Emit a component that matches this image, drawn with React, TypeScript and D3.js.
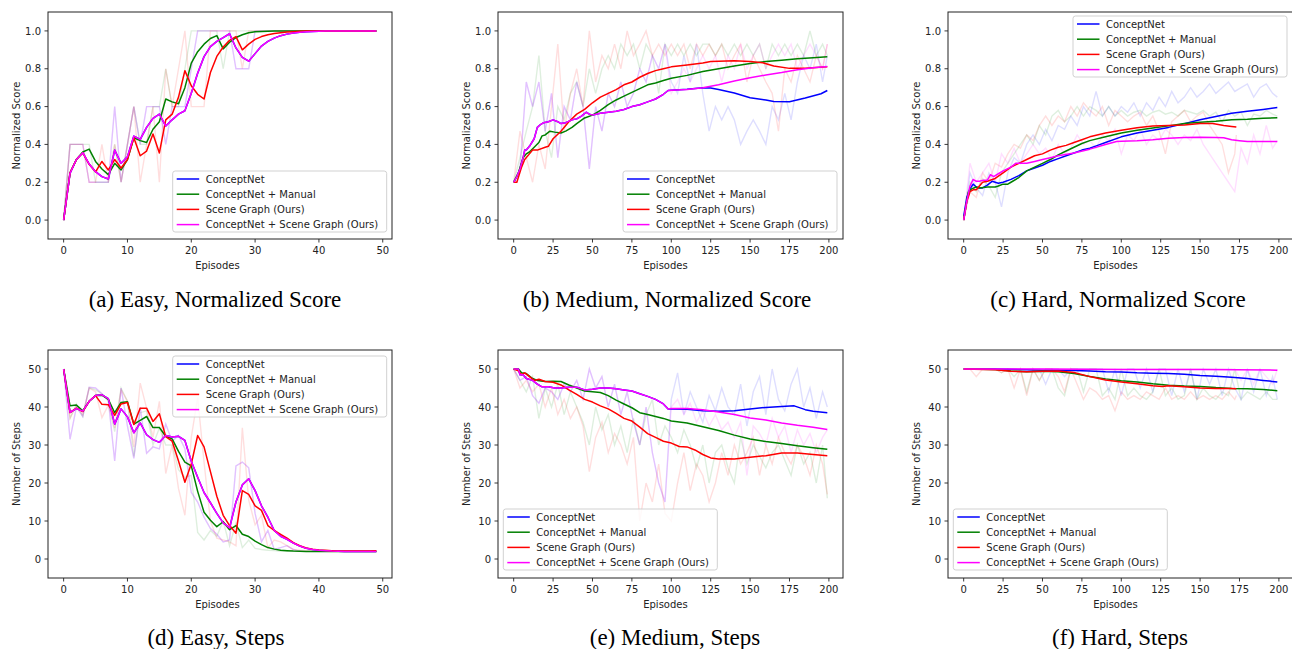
import React from 'react';
import * as d3 from 'd3';

type Pt = [number, number];

const SERIES_LABELS = ['ConceptNet', 'ConceptNet + Manual', 'Scene Graph (Ours)', 'ConceptNet + Scene Graph (Ours)'];
const SERIES_COLORS = ['#0000ff', '#008000', '#ff0000', '#ff00ff'];

const SCORE_TICKS = [0, 0.2, 0.4, 0.6, 0.8, 1.0];
const STEP_TICKS = [0, 10, 20, 30, 40, 50];
const EASY_X_TICKS = [0, 10, 20, 30, 40, 50];
const LONG_X_TICKS = [0, 25, 50, 75, 100, 125, 150, 175, 200];

// ---- Easy, normalized score (one value per episode) ----
const easyScoreMagenta = [0, .247, .32, .356, .296, .256, .23, .217, .37, .30, .335, .444, .427, .49, .538, .56, .497, .53, .56, .578, .67, .776, .864, .917, .945, .965, .985, .91, .86, .84, .88, .92, .945, .962, .975, .983, .989, .993, .995, .997, .998, .999, .999, 1, 1, 1, 1, 1, 1, 1];
const easyScoreMagentaRaw = [0, .4, .4, .4, .2, .2, .2, .2, .6, .2, .4, .6, .4, .6, .6, .6, .4, .6, .6, .6, .8, 1, 1, 1, 1, 1, 1, .8, .8, .8, 1, 1, 1, 1, 1, 1, 1, 1, 1, 1, 1, 1, 1, 1, 1, 1, 1, 1, 1, 1];
const easyScoreGreen = [0, .25, .32, .36, .375, .31, .27, .24, .30, .265, .32, .435, .42, .41, .48, .52, .64, .625, .615, .70, .83, .89, .93, .96, .975, .905, .94, .965, .98, .99, .995, .997, .998, .999, 1, 1, 1, 1, 1, 1, 1, 1, 1, 1, 1, 1, 1, 1, 1, 1];
const easyScoreGreenRaw = [0, .4, .4, .4, .4, .2, .2, .2, .4, .2, .4, .6, .4, .4, .6, .6, .8, .6, .6, .8, 1, 1, 1, 1, 1, .8, 1, 1, 1, 1, 1, 1, 1, 1, 1, 1, 1, 1, 1, 1, 1, 1, 1, 1, 1, 1, 1, 1, 1, 1];
const easyScoreRed = [0, .25, .32, .355, .295, .255, .31, .265, .32, .275, .32, .435, .34, .365, .455, .355, .53, .56, .65, .79, .71, .665, .64, .78, .865, .915, .95, .97, .90, .93, .955, .97, .98, .986, .99, .994, .996, .998, .999, .999, 1, 1, 1, 1, 1, 1, 1, 1, 1, 1];
const easyScoreRedRaw = [0, .4, .4, .4, .2, .2, .4, .2, .4, .2, .4, .6, .2, .4, .6, .2, .8, .6, .8, 1, .6, .6, .6, 1, 1, 1, 1, 1, .8, 1, 1, 1, 1, 1, 1, 1, 1, 1, 1, 1, 1, 1, 1, 1, 1, 1, 1, 1, 1, 1];

// ---- Easy, steps ----
const easyStepsMagenta = [50, 38.6, 39.6, 38.9, 41.5, 43, 43.2, 42.2, 35.5, 39.5, 37.4, 33.2, 35.8, 32.7, 31.4, 30.7, 32.5, 32.1, 32.3, 31.2, 25.7, 21.5, 17.5, 14.8, 12, 9.5, 8.2, 15, 19.5, 21.1, 18, 14, 11, 7.5, 6, 5.2, 4.2, 3.4, 2.8, 2.5, 2.3, 2.2, 2.1, 2.05, 2, 2, 2, 2, 2, 1.95];
const easyStepsMagentaRaw = [50, 31.5, 40, 37.5, 45.2, 45, 43.5, 41.8, 25.8, 45, 35, 26.5, 40, 27.8, 29.5, 29, 35.5, 31, 32.5, 29, 17.5, 15, 11, 8, 6.5, 4.5, 5, 24.5, 25.5, 24, 12, 4.5, 7.5, 2.5, 3, 3.5, 2.5, 2, 2, 2, 2, 2, 2, 2, 2, 2, 2, 2, 2, 2];
const easyStepsGreen = [50, 40.3, 40.5, 39, 41.5, 43, 43.1, 42, 38.5, 41.2, 41.4, 35.5, 36.5, 37.5, 34.6, 34.6, 32.3, 31.6, 28.3, 25.5, 24.5, 17.8, 12.3, 10.2, 8.5, 9.8, 7.7, 8.8, 6.5, 5.9, 4.7, 3.8, 3.0, 2.6, 2.3, 2.2, 2.1, 2.05, 2, 2, 2, 2, 2, 2, 2, 2, 2, 2, 2, 2];
const easyStepsGreenRaw = [50, 37, 40.8, 37.5, 45, 44.5, 43.5, 41.5, 33.5, 45, 41.5, 27, 38.5, 39, 30, 34.5, 30, 30, 23.5, 21.5, 22, 7, 5, 7.5, 6, 10, 3.5, 9.5, 3, 5, 2.8, 2.5, 2.3, 2.2, 2, 2, 2, 2, 2, 2, 2, 2, 2, 2, 2, 2, 2, 2, 2, 2];
const easyStepsRed = [50, 38.5, 39.7, 38.8, 41.5, 43, 40.7, 40.6, 37.8, 40.8, 41.2, 35.4, 39.7, 39.7, 36.2, 38.2, 32.2, 31, 25.8, 20.2, 25, 32.5, 29.5, 23, 16.5, 11.5, 8.8, 6.8, 18, 17, 14, 12.8, 8.8, 7.5, 6.5, 5.5, 4.3, 3.5, 2.9, 2.6, 2.4, 2.3, 2.2, 2.1, 2.1, 2.1, 2.1, 2.1, 2.1, 2.2];
const easyStepsRedRaw = [50, 37, 40.5, 38, 45, 44, 37.2, 40.5, 34.5, 44.5, 41.5, 29.5, 46.3, 39.7, 32, 41.5, 22.5, 30, 18.5, 11.5, 32, 42.5, 25.5, 10, 5.5, 5, 4.5, 3.5, 34.5, 15.5, 9, 11.5, 3, 5, 4.5, 3.5, 2.5, 2.3, 2.2, 2.2, 2.2, 2.2, 2.2, 2.2, 2.2, 2.2, 2.2, 2.2, 2.2, 2.2];

// ---- Medium, normalized score (raw values every 4 episodes) ----
const medScoreRedRaw = [.2, .47, .33, .2, .4, .27, .6, .93, .47, .67, .8, .6, 1, .73, .87, .8, .93, .8, 1, .87, .93, 1, .87, .93, .87, .93, .87, .93, .8, .93, .87, .93, .87, .93, .8, .87, .93, .73, .87, .8, .73, .67, .47, .8, .73, .87, .8, .73, .87, .8, .93];
const medScoreGreenRaw = [.2, .33, .47, .6, .87, .47, .33, .6, .53, .67, .73, .6, .8, .67, .8, .87, .8, .93, .87, .93, .8, .93, .87, .67, .93, .87, .93, .87, .93, .87, .93, .93, .87, .93, .87, .93, .87, .93, .87, .93, .8, .93, .87, .93, .87, .93, .87, 1, .87, .93, .87];
const medScoreMagentaRaw = [.2, .27, .73, .6, .73, .47, .67, .33, .6, .53, .73, .6, .27, .6, .47, .67, .6, .73, .6, .67, .8, .73, .87, .8, .93, .67, .73, .8, .73, .8, .87, .8, .87, .73, .87, .8, .93, .8, .87, .93, .8, .87, .93, .87, .93, .8, .87, .93, .87, .8, .93];
const medScoreBlueRawTail = [.73, .67, .87, .73, .93, .67, .47, .6, .53, .6, .53, .4, .47, .53, .47, .4, .6, .53, .67, .53, .73, .87, .8, .93, .73, .87];
const medScoreRed: Pt[] = [[0, .2], [2, .2], [5, .28], [7, .32], [10, .35], [12, .37], [15, .37], [20, .385], [22, .39], [25, .43], [30, .47], [35, .52], [40, .56], [45, .585], [50, .62], [55, .65], [60, .67], [65, .69], [70, .715], [75, .73], [80, .755], [85, .775], [90, .79], [95, .80], [100, .81], [110, .82], [120, .83], [125, .838], [140, .842], [150, .838], [158, .832], [165, .815], [175, .802], [185, .803], [199, .81]];
const medScoreGreen: Pt[] = [[0, .2], [3, .25], [6, .33], [8, .35], [10, .36], [13, .385], [16, .41], [18, .445], [20, .45], [23, .47], [26, .465], [30, .46], [33, .47], [37, .49], [40, .51], [45, .54], [50, .555], [55, .58], [60, .61], [65, .635], [70, .655], [75, .675], [80, .695], [85, .715], [90, .725], [95, .738], [100, .75], [110, .765], [120, .785], [130, .80], [140, .815], [150, .828], [160, .838], [170, .845], [180, .853], [190, .858], [199, .863]];
const medScoreMagenta: Pt[] = [[0, .2], [2, .23], [4, .27], [6, .33], [7, .37], [8, .37], [10, .39], [13, .43], [15, .49], [17, .505], [19, .515], [22, .52], [25, .53], [28, .52], [30, .51], [33, .515], [37, .53], [40, .535], [43, .55], [46, .57], [48, .56], [50, .555], [55, .565], [60, .57], [65, .575], [70, .585], [75, .6], [80, .61], [85, .625], [90, .64], [95, .665], [98, .685], [100, .686], [110, .69], [120, .70], [130, .715], [140, .735], [150, .752], [160, .767], [170, .78], [180, .795], [190, .805], [199, .812]];
const medScoreBlueTail: Pt[] = [[100, .686], [110, .692], [120, .70], [125, .698], [130, .69], [140, .672], [150, .647], [160, .635], [165, .627], [175, .626], [185, .645], [195, .668], [199, .685]];

// ---- Hard, normalized score ----
const hardScoreBlueRaw = [0, .25, .17, .13, .25, .2, .07, .25, .33, .3, .4, .45, .4, .48, .42, .5, .48, .55, .5, .6, .55, .68, .55, .6, .55, .6, .57, .62, .55, .62, .58, .65, .6, .68, .62, .65, .7, .65, .68, .72, .67, .7, .73, .68, .7, .72, .65, .7, .72, .67, .65];
const hardScoreGreenRaw = [0, .2, .15, .22, .18, .12, .25, .3, .35, .4, .45, .4, .5, .45, .55, .58, .52, .55, .6, .55, .6, .58, .55, .6, .55, .58, .55, .57, .58, .55, .57, .58, .56, .57, .55, .58, .57, .56, .58, .55, .57, .52, .58, .55, .57, .5, .56, .55, .58, .56, .55];
const hardScoreRedRaw = [0, .15, .12, .25, .2, .3, .28, .35, .4, .38, .45, .42, .5, .55, .5, .55, .52, .6, .55, .62, .58, .55, .6, .5, .58, .55, .52, .55, .57, .5, .55, .47, .35, .52, .55, .58, .52, .55, .57, .5, .45, .4, .25, .35, .45];
const hardScoreMagentaRaw = [0, .3, .2, .25, .3, .2, .35, .3, .38, .3, .35, .4, .35, .38, .32, .4, .35, .38, .45, .4, .42, .38, .45, .42, .48, .35, .45, .42, .48, .4, .45, .42, .48, .45, .4, .45, .42, .48, .4, .35, .3, .25, .2, .15, .38, .3, .45, .35, .5, .38, .42];
const hardScoreBlue: Pt[] = [[0, .02], [2, .12], [4, .165], [6, .19], [8, .175], [10, .17], [12, .17], [15, .185], [18, .205], [20, .2], [22, .195], [25, .2], [30, .215], [35, .235], [40, .26], [45, .275], [50, .29], [55, .31], [60, .325], [65, .34], [70, .355], [75, .37], [80, .38], [85, .395], [90, .41], [100, .44], [110, .46], [120, .475], [130, .49], [140, .51], [150, .53], [160, .548], [170, .565], [180, .575], [190, .585], [199, .595]];
const hardScoreGreen: Pt[] = [[0, 0], [3, .15], [5, .165], [8, .175], [10, .17], [15, .175], [20, .175], [22, .18], [25, .19], [28, .19], [30, .2], [35, .225], [40, .26], [45, .28], [50, .3], [55, .32], [60, .345], [65, .365], [70, .385], [75, .405], [80, .42], [90, .44], [100, .46], [110, .475], [120, .487], [130, .498], [140, .51], [150, .517], [160, .522], [170, .53], [180, .533], [190, .538], [199, .541]];
const hardScoreRed: Pt[] = [[0, 0], [2, .1], [4, .15], [6, .16], [8, .16], [10, .18], [12, .2], [15, .205], [20, .22], [25, .25], [30, .28], [35, .30], [40, .32], [45, .34], [50, .35], [55, .37], [60, .385], [65, .395], [70, .41], [75, .425], [80, .44], [90, .46], [100, .475], [110, .488], [120, .497], [130, .50], [140, .503], [150, .51], [158, .51], [165, .50], [170, .495], [173, .492]];
const hardScoreMagenta: Pt[] = [[0, 0], [2, .1], [4, .18], [6, .215], [8, .205], [10, .205], [12, .21], [15, .21], [17, .24], [19, .23], [22, .245], [25, .26], [30, .28], [33, .30], [37, .30], [40, .30], [45, .31], [50, .32], [55, .33], [60, .34], [70, .355], [80, .375], [90, .40], [97, .415], [100, .417], [110, .42], [120, .425], [130, .432], [140, .437], [150, .438], [160, .437], [165, .435], [170, .425], [175, .42], [180, .415], [190, .415], [199, .415]];

// ---- Medium, steps ----
const medStepsRedRaw = [50, 45, 47, 44, 46, 40, 45, 38, 42, 37, 40, 35, 23, 32, 36, 28, 33, 30, 25, 32, 10, 20, 15, 25, 12, 10, 20, 28, 18, 25, 22, 15, 20, 28, 22, 30, 25, 28, 32, 22, 30, 25, 32, 28, 25, 30, 27, 22, 30, 25, 17];
const medStepsGreenRaw = [50, 47, 44, 48, 37, 45, 40, 46, 38, 44, 40, 36, 30, 40, 34, 38, 30, 35, 28, 37, 30, 38, 42, 30, 35, 32, 28, 34, 30, 24, 30, 20, 28, 30, 24, 20, 32, 25, 30, 27, 24, 28, 30, 26, 22, 30, 25, 28, 20, 30, 16];
const medStepsMagentaRaw = [50, 47, 48, 43, 41, 45, 44, 42, 46, 44, 47, 42, 50, 45, 48, 40, 46, 38, 44, 36, 30, 40, 28, 20, 15, 40, 42, 38, 41, 36, 39, 35, 38, 34, 36, 32, 36, 22, 35, 33, 30, 37, 32, 35, 28, 34, 30, 33, 28, 32, 34];
const medStepsBlueRawTail = [42, 49, 38, 44, 40, 36, 43, 39, 45, 40, 38, 46, 35, 44, 48, 38, 50, 42, 39, 46, 50, 40, 45, 37, 44, 40];
const medStepsRed: Pt[] = [[0, 50], [3, 49.5], [5, 48.5], [7, 49], [10, 48], [13, 47], [16, 47.3], [20, 46.7], [25, 46.5], [30, 45.8], [35, 44.5], [40, 43.3], [45, 42], [50, 41.3], [55, 40.3], [60, 39.5], [65, 38.3], [70, 37], [75, 36.3], [80, 34.7], [85, 33], [90, 32], [95, 31], [100, 30.5], [105, 29.6], [110, 29.5], [115, 28.7], [120, 27.5], [125, 26.6], [130, 26.3], [135, 26.4], [140, 26.3], [150, 26.8], [160, 27.2], [170, 27.9], [180, 27.9], [190, 27.5], [199, 27.2]];
const medStepsGreen: Pt[] = [[0, 50], [3, 50], [5, 49], [8, 48.8], [12, 47.5], [15, 47], [20, 46.7], [25, 46.8], [30, 46.7], [35, 45.8], [40, 45], [45, 44.2], [50, 44], [55, 43.8], [60, 43], [65, 41.8], [70, 40.8], [75, 39.8], [80, 38.5], [85, 38], [90, 37.5], [95, 37], [100, 36.3], [110, 35.8], [120, 34.8], [130, 33.8], [140, 32.6], [150, 31.6], [160, 30.9], [170, 30.4], [180, 29.8], [190, 29.3], [199, 28.9]];
const medStepsMagenta: Pt[] = [[0, 50], [3, 50], [4, 48.5], [6, 48.5], [8, 47.5], [12, 47], [15, 46], [18, 45.3], [22, 45.3], [26, 45], [30, 45], [35, 45.2], [40, 45.2], [45, 44.5], [50, 44.7], [55, 45], [60, 45], [65, 44.8], [70, 44.5], [75, 44.2], [80, 43.5], [85, 42.8], [90, 42], [95, 40.8], [98, 39.5], [100, 39.6], [110, 39.6], [120, 39.3], [130, 38.7], [140, 38], [150, 37.1], [160, 36.6], [170, 35.8], [180, 35.2], [190, 34.7], [199, 34.1]];
const medStepsBlueTail: Pt[] = [[100, 39.5], [110, 39.4], [120, 39.0], [130, 38.9], [140, 39.0], [150, 39.5], [160, 39.9], [170, 40.1], [178, 40.3], [185, 39.3], [190, 38.9], [199, 38.5]];

// ---- Hard, steps ----
const hardStepsBlueRaw = [50, 50, 50, 50, 50, 50, 50, 50, 50, 50, 50, 50, 50, 46, 50, 50, 48, 50, 50, 50, 50, 50, 50, 44, 50, 43, 50, 50, 45, 50, 44, 50, 50, 43, 50, 44, 50, 42, 50, 46, 50, 43, 50, 45, 42, 50, 44, 50, 43, 48, 42];
const hardStepsGreenRaw = [50, 50, 50, 50, 50, 50, 49, 50, 48, 50, 44, 50, 47, 50, 50, 45, 43, 50, 50, 44, 50, 50, 43, 45, 42, 50, 43, 45, 43, 42, 44, 50, 43, 45, 42, 43, 50, 42, 45, 43, 42, 44, 43, 50, 42, 44, 43, 42, 44, 42, 42];
const hardStepsRedRaw = [50, 50, 48, 50, 50, 50, 49, 50, 45, 50, 43, 50, 47, 50, 50, 48, 44, 50, 46, 42, 45, 44, 42, 43, 39, 44, 42, 43, 42, 44, 43, 42, 45, 42, 43, 42, 44, 42, 43, 42, 43, 42, 44, 42, 43];
const hardStepsMagentaRaw = [50, 50, 50, 50, 50, 50, 50, 50, 50, 50, 50, 50, 50, 50, 50, 50, 50, 50, 50, 50, 50, 50, 50, 50, 50, 50, 50, 50, 50, 50, 50, 50, 50, 50, 50, 50, 50, 50, 50, 50, 50, 50, 50, 50, 47, 50, 46, 50, 48, 46, 50];
const hardStepsBlue: Pt[] = [[0, 50], [20, 50], [40, 49.8], [50, 49.7], [60, 49.7], [70, 49.6], [80, 49.5], [90, 49.3], [100, 49.2], [110, 49.0], [120, 48.9], [130, 48.8], [140, 48.6], [150, 48.3], [160, 48.1], [170, 47.8], [180, 47.5], [190, 47.0], [199, 46.6]];
const hardStepsGreen: Pt[] = [[0, 50], [20, 49.9], [30, 49.5], [40, 49.3], [50, 49.4], [60, 49.3], [70, 48.8], [80, 48.0], [90, 47.4], [100, 46.9], [110, 46.6], [120, 46.1], [130, 45.7], [140, 45.5], [150, 45.4], [160, 45.1], [170, 44.9], [180, 44.8], [190, 44.6], [199, 44.3]];
const hardStepsRed: Pt[] = [[0, 50], [20, 49.8], [30, 49.4], [40, 49.3], [50, 49.4], [60, 49.5], [70, 49.1], [80, 48.0], [90, 47.1], [100, 46.6], [110, 46.1], [120, 45.6], [126, 45.4], [130, 45.6], [140, 45.3], [150, 45.0], [160, 44.9], [170, 44.9], [173, 44.8]];
const hardStepsMagenta: Pt[] = [[0, 50], [50, 50], [100, 49.9], [150, 49.9], [199, 49.7]];

interface Curve { raw: number[]; step: number; last: number; smooth: Pt[] }

const perEpisode = (vals: number[]): Pt[] => vals.map((v, i) => [i, v] as Pt);
const rawPoints = (c: Curve): Pt[] => c.raw.map((v, i) => [Math.min(i * c.step, c.last), v] as Pt);
const easyCurve = (raw: number[], smooth: number[]): Curve => ({ raw, step: 1, last: 49, smooth: perEpisode(smooth) });
const longCurve = (raw: number[], smooth: Pt[], last = 199): Curve => ({ raw, step: 4, last, smooth });
const withTail = (head: Pt[], tail: Pt[]) => head.filter(d => d[0] < tail[0][0]).concat(tail);

const TOP = { top: 12, bottom: 239 };
const BOT = { top: 350, bottom: 578 };
const COLS = [
  { left: 48, right: 392, domain: [-2.45, 51.45], ticks: EASY_X_TICKS },
  { left: 498, right: 843, domain: [-9.95, 208.95], ticks: LONG_X_TICKS },
  { left: 948, right: 1293, domain: [-9.95, 208.95], ticks: LONG_X_TICKS },
];
const LEGEND_W = 214;
const LEGEND_H = 61;

interface PanelDef {
  id: string; col: number; row: typeof TOP; yDomain: [number, number]; yTicks: number[];
  yFmt: (v: number) => string; yLabel: string; curves: Curve[]; legend: [number, number];
  caption: string; captionX: number; captionY: number;
}

const fmtScore = d3.format('.1f');
const fmtSteps = d3.format('d');

const PANELS: PanelDef[] = [
  {
    id: 'a', col: 0, row: TOP, yDomain: [-0.1, 1.1], yTicks: SCORE_TICKS, yFmt: fmtScore, yLabel: 'Normalized Score',
    curves: [easyCurve(easyScoreMagentaRaw, easyScoreMagenta), easyCurve(easyScoreGreenRaw, easyScoreGreen), easyCurve(easyScoreRedRaw, easyScoreRed), easyCurve(easyScoreMagentaRaw, easyScoreMagenta)],
    legend: [172.7, 171], caption: '(a) Easy, Normalized Score', captionX: 215, captionY: 307,
  },
  {
    id: 'b', col: 1, row: TOP, yDomain: [-0.1, 1.1], yTicks: SCORE_TICKS, yFmt: fmtScore, yLabel: 'Normalized Score',
    curves: [
      longCurve(medScoreMagentaRaw.slice(0, 25).concat(medScoreBlueRawTail), withTail(medScoreMagenta, medScoreBlueTail)),
      longCurve(medScoreGreenRaw, medScoreGreen), longCurve(medScoreRedRaw, medScoreRed), longCurve(medScoreMagentaRaw, medScoreMagenta)],
    legend: [623, 171], caption: '(b) Medium, Normalized Score', captionX: 667, captionY: 307,
  },
  {
    id: 'c', col: 2, row: TOP, yDomain: [-0.1, 1.1], yTicks: SCORE_TICKS, yFmt: fmtScore, yLabel: 'Normalized Score',
    curves: [longCurve(hardScoreBlueRaw, hardScoreBlue), longCurve(hardScoreGreenRaw, hardScoreGreen), longCurve(hardScoreRedRaw, hardScoreRed, 173), longCurve(hardScoreMagentaRaw, hardScoreMagenta)],
    legend: [1073, 16], caption: '(c) Hard, Normalized Score', captionX: 1118, captionY: 307,
  },
  {
    id: 'd', col: 0, row: BOT, yDomain: [-5, 55], yTicks: STEP_TICKS, yFmt: fmtSteps, yLabel: 'Number of Steps',
    curves: [easyCurve(easyStepsMagentaRaw, easyStepsMagenta), easyCurve(easyStepsGreenRaw, easyStepsGreen), easyCurve(easyStepsRedRaw, easyStepsRed), easyCurve(easyStepsMagentaRaw, easyStepsMagenta)],
    legend: [172.7, 356], caption: '(d) Easy, Steps', captionX: 216, captionY: 645,
  },
  {
    id: 'e', col: 1, row: BOT, yDomain: [-5, 55], yTicks: STEP_TICKS, yFmt: fmtSteps, yLabel: 'Number of Steps',
    curves: [
      longCurve(medStepsMagentaRaw.slice(0, 25).concat(medStepsBlueRawTail), withTail(medStepsMagenta, medStepsBlueTail)),
      longCurve(medStepsGreenRaw, medStepsGreen), longCurve(medStepsRedRaw, medStepsRed), longCurve(medStepsMagentaRaw, medStepsMagenta)],
    legend: [503.3, 509], caption: '(e) Medium, Steps', captionX: 675, captionY: 645,
  },
  {
    id: 'f', col: 2, row: BOT, yDomain: [-5, 55], yTicks: STEP_TICKS, yFmt: fmtSteps, yLabel: 'Number of Steps',
    curves: [longCurve(hardStepsBlueRaw, hardStepsBlue), longCurve(hardStepsGreenRaw, hardStepsGreen), longCurve(hardStepsRedRaw, hardStepsRed, 173), longCurve(hardStepsMagentaRaw, hardStepsMagenta)],
    legend: [953.3, 509], caption: '(f) Hard, Steps', captionX: 1120, captionY: 645,
  },
];

const TICK_FONT = 'DejaVu Sans, sans-serif';

function Panel({ p }: { p: PanelDef }) {
  const col = COLS[p.col];
  const { top, bottom } = p.row;
  const x = d3.scaleLinear().domain(col.domain).range([col.left, col.right]);
  const y = d3.scaleLinear().domain(p.yDomain).range([bottom, top]);
  const line = d3.line<Pt>().x(d => x(d[0])).y(d => y(d[1]));
  const [lx, ly] = p.legend;
  const clipId = `clip-${p.id}`;
  return (
    <g>
      <clipPath id={clipId}>
        <rect x={col.left} y={top} width={col.right - col.left} height={bottom - top} />
      </clipPath>
      <g clipPath={`url(#${clipId})`}>
        {p.curves.map((c, i) => (
          <path key={`r${i}`} d={line(rawPoints(c)) || ''} fill="none" stroke={SERIES_COLORS[i]} strokeOpacity={0.13} strokeWidth={1.4} />
        ))}
        {p.curves.map((c, i) => (
          <path key={`s${i}`} d={line(c.smooth) || ''} fill="none" stroke={SERIES_COLORS[i]} strokeWidth={1.5} strokeLinejoin="round" />
        ))}
      </g>
      <rect x={col.left} y={top} width={col.right - col.left} height={bottom - top} fill="none" stroke="#222" strokeWidth={1} />
      {col.ticks.map(t => (
        <g key={`x${t}`}>
          <line x1={x(t)} x2={x(t)} y1={bottom} y2={bottom + 3.5} stroke="#222" strokeWidth={0.9} />
          <text x={x(t)} y={bottom + 14.5} textAnchor="middle" fontSize={10} fontFamily={TICK_FONT} fill="#222">{t}</text>
        </g>
      ))}
      {p.yTicks.map(t => (
        <g key={`y${t}`}>
          <line x1={col.left - 3.5} x2={col.left} y1={y(t)} y2={y(t)} stroke="#222" strokeWidth={0.9} />
          <text x={col.left - 7} y={y(t)} dy="0.36em" textAnchor="end" fontSize={10} fontFamily={TICK_FONT} fill="#222">{p.yFmt(t)}</text>
        </g>
      ))}
      <text x={(col.left + x(col.ticks[col.ticks.length - 1])) / 2 + 2} y={bottom + 30} textAnchor="middle" fontSize={10} fontFamily={TICK_FONT} fill="#222">Episodes</text>
      <text x={col.left - 32} y={(top + bottom) / 2} dy="0.36em" textAnchor="middle" fontSize={10} fontFamily={TICK_FONT} fill="#222"
        transform={`rotate(-90, ${col.left - 32}, ${(top + bottom) / 2})`}>{p.yLabel}</text>
      <rect x={lx} y={ly} width={LEGEND_W} height={LEGEND_H} rx={2.5} fill="#fff" fillOpacity={0.8} stroke="#cccccc" strokeWidth={0.9} />
      {SERIES_LABELS.map((label, i) => {
        const cy = ly + 8 + i * 15.2;
        return (
          <g key={label}>
            <line x1={lx + 4} x2={lx + 26.5} y1={cy} y2={cy} stroke={SERIES_COLORS[i]} strokeWidth={1.5} />
            <text x={lx + 33} y={cy} dy="0.36em" fontSize={10} fontFamily={TICK_FONT} fill="#222">{label}</text>
          </g>
        );
      })}
      <text x={p.captionX} y={p.captionY} textAnchor="middle" fontSize={23} fontFamily="Liberation Serif, Times New Roman, serif" fill="#000">{p.caption}</text>
    </g>
  );
}

export default function App() {
  return (
    <svg width={1292} height={649} style={{ position: 'absolute', left: 0, top: 0, background: '#fff' }}>
      <rect width={1292} height={649} fill="#fff" />
      {PANELS.map(p => <Panel key={p.id} p={p} />)}
    </svg>
  );
}
